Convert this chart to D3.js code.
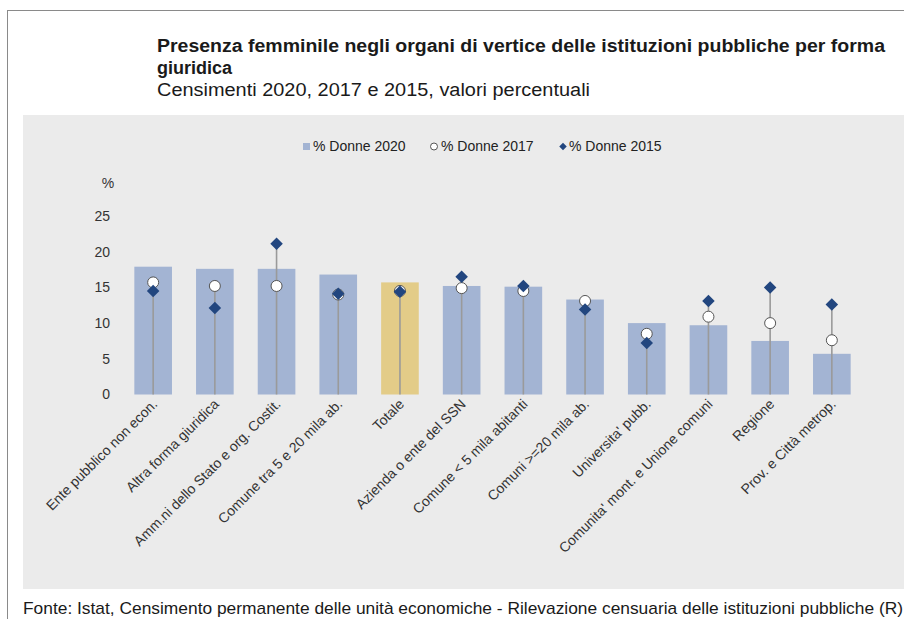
<!DOCTYPE html>
<html>
<head>
<meta charset="utf-8">
<script src="https://cdn.jsdelivr.net/npm/d3@7"></script>
<style>
  html, body { margin: 0; padding: 0; background: #fff; }
  svg { display: block; font-family: "Liberation Sans", Arial, sans-serif; }
</style>
</head>
<body>
<svg id="chart" width="904" height="619"></svg>
<script>
// categories and values
const categories = [
  'Ente pubblico non econ.', 'Altra forma giuridica', 'Amm.ni dello Stato e org. Costit.',
  'Comune tra 5 e 20 mila ab.', 'Totale', 'Azienda o ente del SSN',
  'Comune < 5 mila abitanti', 'Comuni >=20 mila ab.', "Universita' pubb.",
  "Comunita' mont. e Unione comuni", 'Regione', 'Prov. e Città metrop.'
];
const donne2020 = [17.9, 17.6, 17.6, 16.8, 15.7, 15.2, 15.1, 13.3, 10.0, 9.7, 7.5, 5.7];
const donne2017 = [15.7, 15.2, 15.2, 14.0, 14.5, 14.9, 14.5, 13.1, 8.5, 10.9, 10.0, 7.6];
const donne2015 = [14.5, 12.1, 21.1, 14.1, 14.4, 16.5, 15.2, 11.9, 7.2, 13.1, 15.0, 12.6];
const yTicks = [0, 5, 10, 15, 20, 25];

const COLORS = {
  bar    : '#a3b4d3',
  total  : '#e3cc88',
  diamond: '#22467f',
  stem   : '#9a9a9a',
  panel  : '#ebebeb'
};

const svg = d3.select('#chart');

// outer frame and grey plot panel
svg.append('rect')
  .attr('x', 7.5).attr('y', 10.5)
  .attr('width', 920).attr('height', 640)
  .attr('fill', '#fff').attr('stroke', '#8a8a8a');

svg.append('rect')
  .attr('x', 23).attr('y', 115)
  .attr('width', 900).attr('height', 474)
  .attr('fill', COLORS.panel);

// titles
svg.append('text')
  .attr('x', 157).attr('y', 52)
  .attr('font-size', 18).attr('font-weight', 'bold').attr('fill', '#1a1a1a')
  .attr('textLength', 728).attr('lengthAdjust', 'spacingAndGlyphs')
  .text('Presenza femminile negli organi di vertice delle istituzioni pubbliche per forma');
svg.append('text')
  .attr('x', 157).attr('y', 74)
  .attr('font-size', 18).attr('font-weight', 'bold').attr('fill', '#1a1a1a')
  .text('giuridica');
svg.append('text')
  .attr('x', 157).attr('y', 96)
  .attr('font-size', 18).attr('fill', '#1a1a1a')
  .attr('textLength', 433).attr('lengthAdjust', 'spacingAndGlyphs')
  .text('Censimenti 2020, 2017 e 2015, valori percentuali');

// scales
const x = d3.scaleBand()
  .domain(categories)
  .range([122, 863])
  .paddingInner(0.39)
  .paddingOuter(0.2);

const y = d3.scaleLinear()
  .domain([0, 25])
  .range([394.5, 216]);

const cx = i => x(categories[i]) + x.bandwidth() / 2;

// y axis labels (no line, no ticks)
const yAxis = svg.append('g')
  .attr('transform', 'translate(110,0)')
  .call(d3.axisLeft(y).tickValues(yTicks).tickSize(0).tickPadding(0));
yAxis.select('.domain').remove();
yAxis.selectAll('text')
  .attr('font-size', 14).attr('fill', '#333')
  .attr('font-family', '"Liberation Sans", Arial, sans-serif');

svg.append('text')
  .attr('x', 108).attr('y', 188)
  .attr('text-anchor', 'middle')
  .attr('font-size', 14).attr('fill', '#333')
  .text('%');

// bars
svg.append('g').selectAll('rect')
  .data(donne2020)
  .join('rect')
  .attr('x', (d, i) => x(categories[i]))
  .attr('width', x.bandwidth())
  .attr('y', d => y(d))
  .attr('height', d => y(0) - y(d))
  .attr('fill', (d, i) => categories[i] === 'Totale' ? COLORS.total : COLORS.bar);

// stems from 0 to the highest marker
svg.append('g').selectAll('line')
  .data(categories)
  .join('line')
  .attr('x1', (d, i) => cx(i)).attr('x2', (d, i) => cx(i))
  .attr('y1', y(0))
  .attr('y2', (d, i) => y(Math.max(donne2017[i], donne2015[i])))
  .attr('stroke', COLORS.stem)
  .attr('stroke-width', 1.6);

// 2017 circles
svg.append('g').selectAll('circle')
  .data(donne2017)
  .join('circle')
  .attr('cx', (d, i) => cx(i))
  .attr('cy', d => y(d))
  .attr('r', 5.5)
  .attr('fill', '#fff')
  .attr('stroke', '#555')
  .attr('stroke-width', 1);

// 2015 diamonds
const diamond = d3.symbol().type(d3.symbolDiamond2).size(100);
svg.append('g').selectAll('path')
  .data(donne2015)
  .join('path')
  .attr('transform', (d, i) => 'translate(' + cx(i) + ',' + y(d) + ')')
  .attr('d', diamond)
  .attr('fill', COLORS.diamond);

// category labels, rotated
svg.append('g').selectAll('text')
  .data(categories)
  .join('text')
  .attr('transform', (d, i) => 'translate(' + (cx(i) + 5) + ',' + 405 + ') rotate(-45)')
  .attr('text-anchor', 'end')
  .attr('font-size', 14)
  .attr('fill', '#333')
  .text(d => d);

// legend
const legend = svg.append('g').attr('font-size', 14).attr('fill', '#222');
legend.append('rect')
  .attr('x', 303).attr('y', 143).attr('width', 7).attr('height', 7)
  .attr('fill', COLORS.bar);
legend.append('text').attr('x', 313).attr('y', 151).text('%  Donne 2020');
legend.append('circle')
  .attr('cx', 434).attr('cy', 146.5).attr('r', 3.5)
  .attr('fill', '#fff').attr('stroke', '#555');
legend.append('text').attr('x', 441).attr('y', 151).text('%  Donne 2017');
legend.append('path')
  .attr('transform', 'translate(563,146.5)')
  .attr('d', d3.symbol().type(d3.symbolDiamond2).size(36))
  .attr('fill', COLORS.diamond);
legend.append('text').attr('x', 569).attr('y', 151).text('%  Donne 2015');

// source note
svg.append('text')
  .attr('x', 23).attr('y', 614)
  .attr('font-size', 17).attr('fill', '#1a1a1a')
  .attr('textLength', 880).attr('lengthAdjust', 'spacingAndGlyphs')
  .text('Fonte: Istat, Censimento permanente delle unità economiche - Rilevazione censuaria delle istituzioni pubbliche (R)');
</script>
</body>
</html>
